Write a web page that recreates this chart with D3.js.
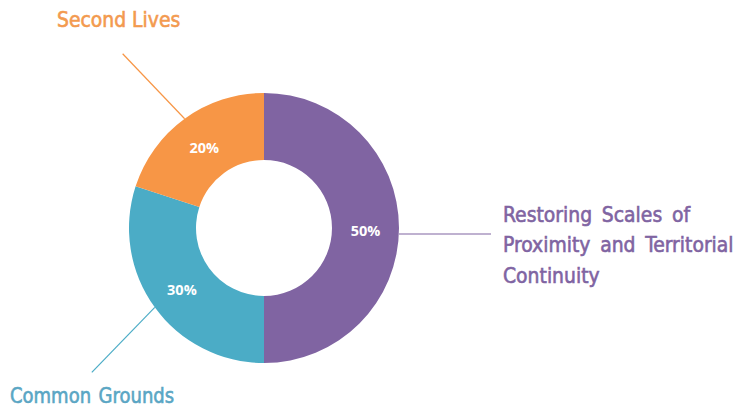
<!DOCTYPE html>
<html>
<head>
<meta charset="utf-8">
<script src="https://cdn.jsdelivr.net/npm/d3@7"></script>
<style>
  body { margin: 0; background: #fff; }
  svg { display: block; }
</style>
</head>
<body>
<svg></svg>
<script>
const categories = ["Restoring Scales of Proximity and Territorial Continuity", "Common Grounds", "Second Lives"];
const labelLines = [["Restoring Scales of", "Proximity and Territorial", "Continuity"], ["Common Grounds"], ["Second Lives"]];
const values = [50, 30, 20];
const colors = ["#8064a2", "#4bacc6", "#f79646"];
const textColors = ["#8064a2", "#5aa6c4", "#f39a4f"];

const svgWidth = 740, svgHeight = 412;
const cx = 264, cy = 228;
const outerR = 135, innerR = 68;

const svg = d3.select("svg")
    .attr("width", svgWidth)
    .attr("height", svgHeight);

const g = svg.append("g")
    .attr("transform", "translate(" + cx + "," + cy + ")");

const pie = d3.pie().sort(null).value(d => d);
const arcs = pie(values);

const arc = d3.arc().innerRadius(innerR).outerRadius(outerR);

g.selectAll("path.slice")
    .data(arcs)
    .enter().append("path")
    .attr("class", "slice")
    .attr("fill", (d, i) => colors[i])
    .attr("d", arc);

// percentage labels
g.selectAll("text.pct")
    .data(arcs)
    .enter().append("text")
    .attr("class", "pct")
    .attr("transform", d => {
        const c = arc.centroid(d);
        return "translate(" + c[0] + "," + (c[1] + 2.5) + ")";
    })
    .attr("dy", "0.35em")
    .attr("text-anchor", "middle")
    .attr("fill", "#fff")
    .attr("font-family", "'Open Sans', sans-serif")
    .attr("font-weight", "bold")
    .attr("font-size", 14.5)
    .text(d => d.data + "%");

// leader lines: start on outer edge at mid angle, end offsets per slice
const starts = [[0, 6], [0, 0], [0, 0]];
const ends = [[92, 0], [-63, 65], [-62, -65]];
const textPos = [[239, -6], [-254, 175], [-207, -201]];
const scaleX = [0.95, 0.91, 0.95];
const wordSpacing = [4, 2, 0];

arcs.forEach(function(d, i) {
    const mid = (d.startAngle + d.endAngle) / 2;
    const sx = Math.sin(mid) * outerR + starts[i][0], sy = -Math.cos(mid) * outerR + starts[i][1];
    g.append("line")
        .attr("x1", sx).attr("y1", sy)
        .attr("x2", sx + ends[i][0]).attr("y2", sy + ends[i][1])
        .attr("stroke", colors[i])
        .attr("stroke-width", 1.2);

    const t = g.append("text")
        .attr("transform", "translate(" + textPos[i][0] + "," + textPos[i][1] + ") scale(" + scaleX[i] + ",1)")
        .attr("fill", textColors[i])
        .attr("stroke", textColors[i])
        .attr("stroke-width", 0.6)
        .attr("word-spacing", wordSpacing[i])
        .attr("font-family", "'DejaVu Sans Condensed', 'DejaVu Sans', sans-serif")
        .attr("font-size", 22);
    labelLines[i].forEach(function(line, j) {
        t.append("tspan")
            .attr("x", 0)
            .attr("dy", j === 0 ? 0 : 30.5)
            .text(line);
    });
});
</script>
</body>
</html>
